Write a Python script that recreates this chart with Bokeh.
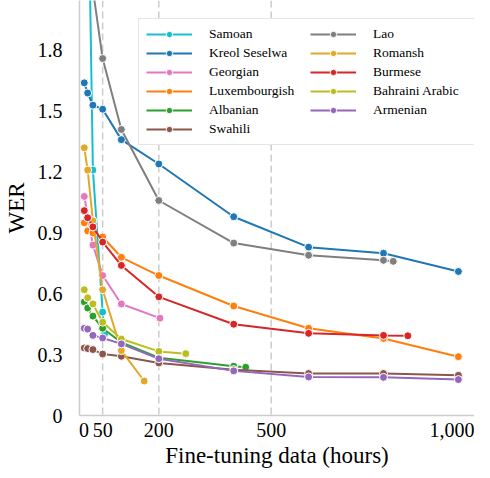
from bokeh.plotting import figure
from bokeh.models import Legend, LegendItem, Span, FixedTicker, Range1d
from bokeh.embed import file_html
from bokeh.resources import INLINE

# ---- data (hours of fine-tuning data, WER) ----
languages = ["Samoan", "Kreol Seselwa", "Georgian", "Luxembourgish", "Albanian", "Swahili",
             "Lao", "Romansh", "Burmese", "Bahraini Arabic", "Armenian"]
colors = ["#17becf", "#1f77b4", "#e377c2", "#ff7f0e", "#2ca02c", "#8c564b",
          "#7f7f7f", "#e2a829", "#d62728", "#bcbd22", "#9467bd"]

samoan_x = [10, 24, 50, 55]
samoan_y = [2.82, 1.21, 0.51, 0.40]
kreol_x = [1, 10, 24, 50, 100, 200, 400, 600, 800, 1000]
kreol_y = [1.64, 1.59, 1.53, 1.51, 1.36, 1.24, 0.98, 0.83, 0.80, 0.71]
georgian_x = [1, 24, 50, 100, 203]
georgian_y = [1.08, 0.84, 0.69, 0.55, 0.48]
lux_x = [1, 10, 24, 50, 100, 200, 400, 600, 800, 1000]
lux_y = [0.95, 0.91, 0.90, 0.88, 0.78, 0.69, 0.54, 0.43, 0.38, 0.29]
albanian_x = [1, 10, 24, 50, 100, 200, 400, 432]
albanian_y = [0.56, 0.53, 0.49, 0.43, 0.36, 0.285, 0.243, 0.238]
swahili_x = [1, 10, 24, 50, 100, 200, 400, 600, 800, 1000]
swahili_y = [0.333, 0.330, 0.325, 0.303, 0.292, 0.259, 0.226, 0.207, 0.207, 0.198]
lao_x = [24, 50, 100, 200, 400, 600, 800, 826]
lao_y = [2.10, 1.76, 1.41, 1.06, 0.85, 0.79, 0.765, 0.76]
romansh_x = [1, 10, 24, 50, 100, 161]
romansh_y = [1.32, 1.21, 0.96, 0.62, 0.32, 0.17]
burmese_x = [1, 10, 24, 50, 100, 200, 400, 600, 800, 865]
burmese_y = [1.01, 0.975, 0.93, 0.855, 0.74, 0.585, 0.45, 0.405, 0.395, 0.393]
bahraini_x = [1, 10, 24, 50, 100, 200, 272]
bahraini_y = [0.62, 0.58, 0.55, 0.46, 0.377, 0.316, 0.305]
armenian_x = [1, 10, 24, 50, 100, 200, 400, 600, 800, 1000]
armenian_y = [0.43, 0.426, 0.395, 0.382, 0.353, 0.28, 0.22, 0.19, 0.188, 0.177]

series_x = [samoan_x, kreol_x, georgian_x, lux_x, albanian_x, swahili_x,
            lao_x, romansh_x, burmese_x, bahraini_x, armenian_x]
series_y = [samoan_y, kreol_y, georgian_y, lux_y, albanian_y, swahili_y,
            lao_y, romansh_y, burmese_y, bahraini_y, armenian_y]

x_ticks = [0, 50, 200, 500, 1000]
x_tick_labels = ["0", "50", "200", "500", "1,000"]
y_ticks = [0, 0.3, 0.6, 0.9, 1.2, 1.5, 1.8]
y_tick_labels = ["0", "0.3", "0.6", "0.9", "1.2", "1.5", "1.8"]
grid_hours = [50, 200, 500]
x_title = "Fine-tuning data (hours)"
y_title = "WER"

FONT = "Liberation Serif"

p = figure(width=474, height=470, output_backend="svg", toolbar_location=None,
           x_range=Range1d(-11.8, 1043), y_range=Range1d(0, 2.046),
           min_border_left=72, min_border_right=0, min_border_top=0, min_border_bottom=54)
p.outline_line_color = None
p.xgrid.grid_line_color = None
p.ygrid.grid_line_color = None
p.background_fill_color = "white"

for h in grid_hours:
    p.add_layout(Span(location=h, dimension="height", line_color="#cccccc",
                      line_width=1.5, line_dash="7 4", level="underlay"))

items = []
for name, col, xs, ys in zip(languages, colors, series_x, series_y):
    ln = p.line(xs, ys, line_color=col, line_width=2)
    sc = p.scatter(xs, ys, size=8, fill_color=col, line_color="white", line_width=1)
    items.append(LegendItem(label=name, renderers=[ln, sc]))

for ax in (p.xaxis[0], p.yaxis[0]):
    ax.axis_line_color = "#cccccc"
    ax.axis_line_width = 1.5
    ax.major_tick_line_color = None
    ax.minor_tick_line_color = None
    ax.major_label_text_font = FONT
    ax.major_label_text_font_size = "20px"
    ax.major_label_text_color = "black"
    ax.axis_label_text_font = FONT
    ax.axis_label_text_font_size = "23px"
    ax.axis_label_text_font_style = "normal"
    ax.axis_label_text_color = "black"

p.xaxis.ticker = FixedTicker(ticks=x_ticks)
p.xaxis.major_label_overrides = {t: l for t, l in zip(x_ticks, x_tick_labels)}
p.yaxis.ticker = FixedTicker(ticks=y_ticks)
p.yaxis.major_label_overrides = {t: l for t, l in zip(y_ticks, y_tick_labels)}
p.xaxis.axis_label = x_title
p.yaxis.axis_label = y_title
p.xaxis.major_label_standoff = 1
p.xaxis.axis_label_standoff = 3
p.yaxis.major_label_standoff = 11
p.yaxis.axis_label_standoff = 6

legend = Legend(items=items, location=(59, 270), ncols=2,
                glyph_width=46, glyph_height=16, label_height=16, label_width=98,
                label_standoff=17, spacing=3, padding=7, margin=0,
                border_line_color="#cccccc", border_line_width=1,
                background_fill_color="white", background_fill_alpha=1.0,
                label_text_font=FONT, label_text_font_size="13.5px",
                label_text_color="black")
p.add_layout(legend)

open("out.html", "w").write(file_html(p, INLINE))
